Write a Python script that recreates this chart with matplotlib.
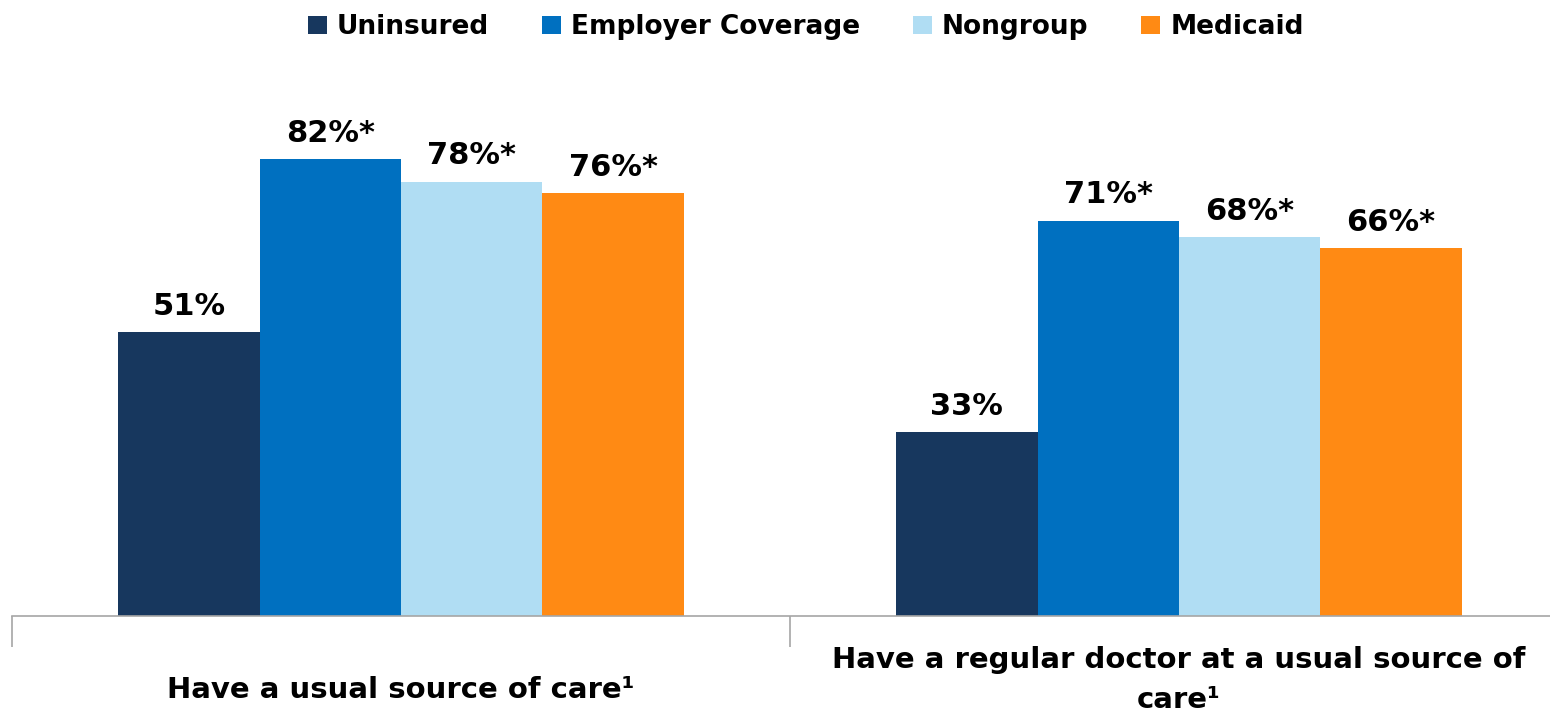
import numpy as np
import matplotlib.pyplot as plt
from matplotlib.transforms import blended_transform_factory

categories = ['Have a usual source of care¹',
              'Have a regular doctor at a usual source of\ncare¹']
series = ['Uninsured', 'Employer Coverage', 'Nongroup', 'Medicaid']
values = [[51, 33], [82, 71], [78, 68], [76, 66]]
labels = [['51%', '33%'], ['82%*', '71%*'], ['78%*', '68%*'], ['76%*', '66%*']]
colors = ['#17375E', '#0070C0', '#B0DDF3', '#FF8A14']

fig = plt.figure(figsize=(15.5, 7.12), dpi=100)
ax = fig.add_axes([12 / 1550, 96 / 712, 1556 / 1550, 557 / 712])

x = np.arange(len(categories))
width = 0.727 / len(series)
for i, (name, vals) in enumerate(zip(series, values)):
    pos = x + (i - 1.5) * width
    ax.bar(pos, vals, width, color=colors[i], label=name)
    for p, v, t in zip(pos, vals, labels[i]):
        ax.text(p, v + 2.0, t, ha='center', va='bottom', fontsize=22,
                fontweight='bold', family='DejaVu Sans')

ax.set_xlim(-0.5, 1.5)
ax.set_ylim(0, 100)
for s in ['top', 'right', 'left']:
    ax.spines[s].set_visible(False)
ax.spines['bottom'].set_color('#A6A6A6')
ax.spines['bottom'].set_linewidth(1.2)
ax.set_yticks([])
ax.set_xticks([])
ax.set_xticks([-0.5, 0.5, 1.5], minor=True)
ax.tick_params(axis='x', which='minor', length=22, width=1.2, color='#A6A6A6',
               labelbottom=False)

trans = blended_transform_factory(ax.transData, fig.transFigure)
ax.text(0, 1 - 690 / 712, categories[0], transform=trans, ha='center', va='center',
        fontsize=21, fontweight='bold')
ax.text(1, 1 - 680 / 712, categories[1], transform=trans, ha='center', va='center',
        fontsize=21, fontweight='bold', linespacing=1.55)

fig.legend(loc='center', bbox_to_anchor=(0.52, 1 - 27 / 712), ncol=4, frameon=False,
           handlelength=0.7, handleheight=0.7, handletextpad=0.4, columnspacing=2.0,
           prop={'weight': 'bold', 'size': 19})

fig.savefig('out.png', dpi=100)
